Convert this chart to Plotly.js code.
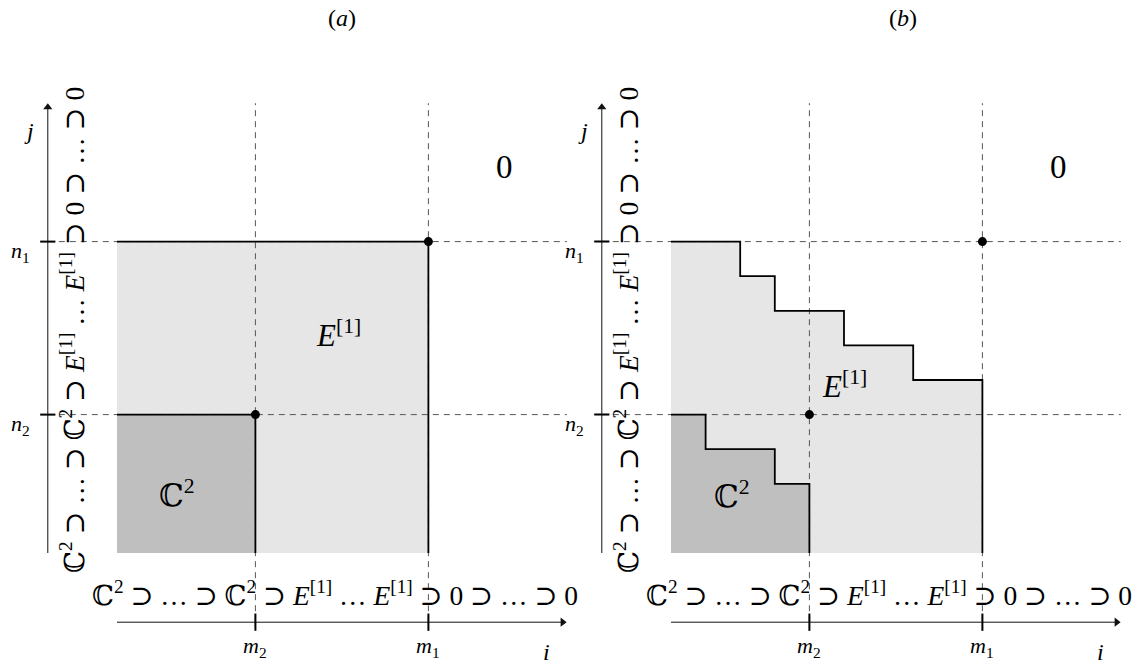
<!DOCTYPE html>
<html>
<head>
<meta charset="utf-8">
<script src="https://cdn.plot.ly/plotly-3.0.1.min.js"></script>
<style>html,body{margin:0;padding:0;background:#fff;}</style>
</head>
<body>
<div id="chart" style="width:1145px;height:664px;"></div>
<script>
// ---------------- data ----------------
const panelLetters = ['a', 'b'];
const mValues = [4, 9];          // m2, m1
const nValues = [4, 9];          // n2, n1
const mLabels = ['<i>m</i><sub>2</sub>', '<i>m</i><sub>1</sub>'];
const nLabels = ['<i>n</i><sub>2</sub>', '<i>n</i><sub>1</sub>'];
// panel (a) region boundaries
const outerAx = [0, 9, 9];
const outerAy = [9, 9, 0];
const innerAx = [0, 4, 4];
const innerAy = [4, 4, 0];
// panel (b) staircase boundaries
const outerBx = [0, 2, 2, 3, 3, 5, 5, 7, 7, 9, 9];
const outerBy = [9, 9, 8, 8, 7, 7, 6, 6, 5, 5, 0];
const innerBx = [0, 1, 1, 3, 3, 4, 4];
const innerBy = [4, 4, 3, 3, 2, 2, 0];
const axisStart = -2, axisEnd = 13;
const filtrationText = 'ℂ<sup>2</sup> ⊃ … ⊃ ℂ<sup>2</sup> ⊃ <i>E</i><sup>[1]</sup> … <i>E</i><sup>[1]</sup> ⊃ 0 ⊃ … ⊃ 0';
const regionLabels = ['ℂ<sup>2</sup>', '<i>E</i><sup>[1]</sup>', '0'];

// ---------------- layout geometry ----------------
const W = 1145, H = 664;
const U = 34.6;                 // px per unit
const originX = [117, 671];     // px of x=0 for each panel
const originY = 553;            // px of y=0
const FONT = 'Liberation Serif, DejaVu Serif, serif';
const LIGHT = '#e6e6e6', DARK = '#bfbfbf', DASH = '#555555';

const xa = ['x', 'x2'];
const traces = [];
const annotations = [];

const panels = [
  {ox: outerAx, oy: outerAy, ix: innerAx, iy: innerAy, e: [6.4, 6.35], c: [1.73, 1.72]},
  {ox: outerBx, oy: outerBy, ix: innerBx, iy: innerBy, e: [5.0, 4.86], c: [1.76, 1.68]}
];

panels.forEach((p, k) => {
  const xr = xa[k];
  const line = (x, y, ln, extra) => traces.push(Object.assign({x: x, y: y, xaxis: xr, yaxis: 'y', mode: 'lines',
    line: ln, hoverinfo: 'skip', showlegend: false}, extra || {}));
  // fills
  line(p.ox.concat([0]), p.oy.concat([0]), {width: 0, color: LIGHT}, {fill: 'toself', fillcolor: LIGHT});
  line(p.ix.concat([0]), p.iy.concat([0]), {width: 0, color: DARK}, {fill: 'toself', fillcolor: DARK});
  // dashed guides
  const dx = [], dy = [];
  nValues.forEach(v => { dx.push(axisStart, axisEnd, null); dy.push(v, v, null); });
  mValues.forEach(v => { dx.push(v, v, null); dy.push(axisStart, axisEnd, null); });
  line(dx, dy, {color: DASH, width: 1, dash: '6px,5px'});
  // boundaries
  line(p.ox, p.oy, {color: '#000', width: 1.8});
  line(p.ix, p.iy, {color: '#000', width: 1.8});
  // axes
  line([0, axisEnd - 0.1, null, axisStart, axisStart], [axisStart, axisStart, null, 0, axisEnd - 0.1], {color: '#111', width: 1});
  traces.push({x: [axisEnd - 0.12], y: [axisStart], xaxis: xr, yaxis: 'y', mode: 'markers', hoverinfo: 'skip', showlegend: false,
    marker: {symbol: 'triangle-right', size: 8, color: '#111', line: {width: 0}}});
  traces.push({x: [axisStart], y: [axisEnd - 0.12], xaxis: xr, yaxis: 'y', mode: 'markers', hoverinfo: 'skip', showlegend: false,
    marker: {symbol: 'triangle-up', size: 8, color: '#111', line: {width: 0}}});
  // ticks
  const tx = [], ty = [];
  mValues.forEach(v => { tx.push(v, v, null); ty.push(axisStart - 0.25, axisStart + 0.25, null); });
  nValues.forEach(v => { tx.push(axisStart - 0.22, axisStart + 0.22, null); ty.push(v, v, null); });
  line(tx, ty, {color: '#000', width: 2});
  // dots
  traces.push({x: mValues, y: nValues, xaxis: xr, yaxis: 'y', mode: 'markers',
    marker: {color: '#000', size: 9}, hoverinfo: 'skip', showlegend: false});

  const txt = (x, y, text, size, extra) => annotations.push(Object.assign({xref: xr, yref: 'y', x: x, y: y, text: text,
    showarrow: false, font: {family: FONT, size: size, color: '#000'}, xanchor: 'center', yanchor: 'middle'}, extra || {}));

  // axis letters
  txt(12.4, -2.85, '<i>i</i>', 24);
  txt(-2.55, 12.2, '<i>j</i>', 24);
  mValues.forEach((v, i) => txt(v, -2.72, mLabels[i], 22));
  nValues.forEach((v, i) => txt(-2.78, v - 0.3, nLabels[i], 22));
  // filtration texts
  txt(6.3, -1.18, filtrationText, 27.5);
  txt(-1.27, 6.45, filtrationText, 27.5, {textangle: -90});
  // region labels
  txt(p.c[0], p.c[1], regionLabels[0], 31);
  txt(p.e[0], p.e[1], regionLabels[1], 31);
  txt(11.2, 11.15, regionLabels[2], 33);
  // title
  txt(k === 0 ? 6.5 : 6.7, 15.45, '(<i>' + panelLetters[k] + '</i>)', 24);
});

const half = W / 2;
const layout = {
  width: W, height: H,
  margin: {l: 0, r: 0, t: 0, b: 0},
  paper_bgcolor: '#fff', plot_bgcolor: '#fff',
  showlegend: false,
  xaxis: {domain: [0, 0.5], range: [-originX[0] / U, (half - originX[0]) / U], visible: false, fixedrange: true},
  xaxis2: {domain: [0.5, 1], range: [-(originX[1] - half) / U, (W - originX[1]) / U], visible: false, fixedrange: true, anchor: 'y'},
  yaxis: {domain: [0, 1], range: [-(H - originY) / U, originY / U], visible: false, fixedrange: true},
  annotations: annotations
};

Plotly.newPlot('chart', traces, layout, {displayModeBar: false, staticPlot: true});
</script>
</body>
</html>
